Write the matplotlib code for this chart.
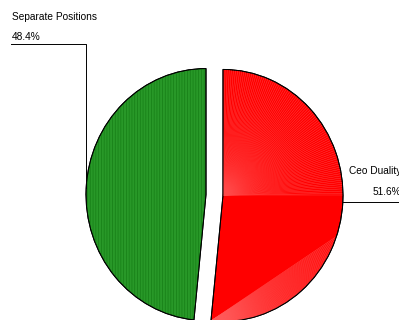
import math
import matplotlib.pyplot as plt
from matplotlib.patches import Wedge

plt.rcParams['font.family'] = ['Liberation Sans', 'DejaVu Sans']
plt.rcParams['hatch.linewidth'] = 0.5

labels = ['Ceo Duality', 'Separate Positions']
shares = [51.6, 48.4]
colors = ['#ff0000', '#289828']

W, H = 399, 320
SY = 1.05  # vertical stretch of the pie


def py(y):
    # pixel row (from the top) -> data y
    return (H - y) / SY


fig = plt.figure(figsize=(W / 100, H / 100), dpi=100)
ax = fig.add_axes([0, 0, 1, 1])

wedges, _ = ax.pie(shares, colors=colors, startangle=90, counterclock=False,
                   explode=[8.5, 8.5], radius=120, center=(214.5, py(195)),
                   frame=True, wedgeprops=dict(edgecolor='black', linewidth=0.7))
red, green = wedges
for w in wedges:
    w.set_zorder(1)

# fine radial strokes over the red slice
rx, ry = red.center
r = red.r
for a in range(0, 91):
    t = math.radians(a)
    ln, = ax.plot([rx, rx + r * math.cos(t)], [ry, ry + r * math.sin(t)],
                  color='#ff4a4a', lw=0.3, zorder=2)
    ln.set_clip_path(red)
tb = math.radians(red.theta1)
bx, by = rx + r * math.cos(tb), ry + r * math.sin(tb)
for a in range(-19, -96, -1):
    t = math.radians(a)
    ln, = ax.plot([bx, rx + r * math.cos(t)], [by, ry + r * math.sin(t)],
                  color='#ff5a5a', lw=0.3, zorder=2)
    ln.set_clip_path(red)

# vertical stripes on the green slice
ax.add_patch(Wedge(green.center, green.r, green.theta1, green.theta2,
                   facecolor='none', edgecolor='#167e16', hatch='|' * 6,
                   linewidth=0, zorder=2))

# outlines on top
for w in wedges:
    ax.add_patch(Wedge(w.center, w.r, w.theta1, w.theta2, facecolor='none',
                       edgecolor='black', linewidth=0.7, zorder=3))

# leader lines and labels
gx, gy = green.center
gm = math.radians((green.theta1 + green.theta2) / 2)
lx, ly = gx + green.r * math.cos(gm), gy + green.r * math.sin(gm)
ax.plot([lx, lx, 11], [ly, py(44), py(44)], color='black', lw=0.7, zorder=3)
ax.text(12, py(17), labels[1], fontsize=7.3, ha='left', va='center')
ax.text(12, py(37), f'{shares[1]:.1f}%', fontsize=7.3, ha='left', va='center')

rm = math.radians((red.theta1 + red.theta2) / 2)
qx, qy = rx + r * math.cos(rm), ry + r * math.sin(rm)
ax.plot([qx, W + 5], [qy, qy], color='black', lw=0.7, zorder=3)
ax.text(401, py(171), labels[0], fontsize=7.3, ha='right', va='center')
ax.text(401, py(192), f'{shares[0]:.1f}%', fontsize=7.3, ha='right', va='center')

ax.set_aspect('auto')
ax.set_xlim(0, W)
ax.set_ylim(0, H / SY)
ax.axis('off')

fig.savefig('out.png', dpi=100)
